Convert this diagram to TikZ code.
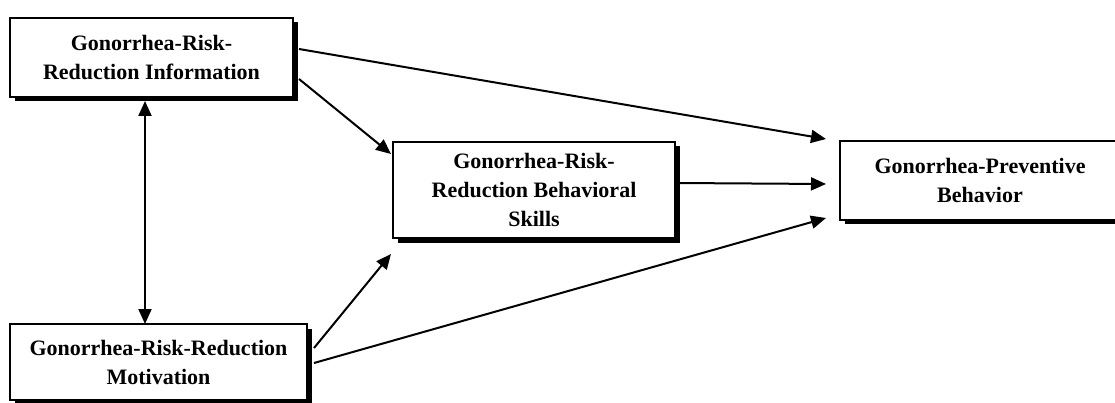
\documentclass[tikz,border=0pt]{standalone}
\usepackage{fontspec}
\setmainfont{Liberation Serif}
\usetikzlibrary{arrows.meta,shadows,calc}
\begin{document}
\begin{tikzpicture}[x=1pt,y=-1pt,
  box/.style={draw, line width=2pt, fill=white, align=center,
    font=\fontsize{22}{29}\selectfont\bfseries, inner sep=0pt,
    drop shadow={shadow xshift=4.5pt, shadow yshift=-4.5pt, fill=black, opacity=1}},
  arr/.style={line width=2pt, -{Triangle[length=15pt,width=13pt]}},
  darr/.style={line width=2pt, {Triangle[length=15pt,width=13pt]}-{Triangle[length=15pt,width=13pt]}}]
\useasboundingbox (0,0) rectangle (1115,403);
\begin{scope}
\clip (0,0) rectangle (1115,403);
\node[box, minimum width=283pt, minimum height=79pt] (info) at (151.5,57.5) {Gonorrhea-Risk-\\Reduction Information};
\node[box, minimum width=282pt, minimum height=96pt] (skills) at (534,190) {Gonorrhea-Risk-\\Reduction Behavioral\\Skills};
\node[box, minimum width=280pt, minimum height=79pt] (behav) at (980,180.5) {Gonorrhea-Preventive\\Behavior};
\node[box, minimum width=297pt, minimum height=76pt] (motiv) at (158.5,362) {Gonorrhea-Risk-Reduction\\Motivation};
\end{scope}
\draw[arr] ([shift={(5,-8.5)}]info.east) -- ([shift={(-13,-1)}]behav.north west);
\draw[arr] ([shift={(5,21.5)}]info.east) -- ([shift={(-1,13)}]skills.north west);
\draw[arr] ([shift={(1,-7)}]skills.east) -- ([shift={(-13,3.5)}]behav.west);
\draw[arr] ([shift={(6,-14)}]motiv.east) -- ([shift={(-1,15)}]skills.south west);
\draw[arr] ([shift={(6,1)}]motiv.east) -- ([shift={(-13,-3)}]behav.south west);
\draw[darr] ([shift={(-6.5,3)}]info.south) -- ([shift={(-13.5,1)}]motiv.north);
\end{tikzpicture}
\end{document}
